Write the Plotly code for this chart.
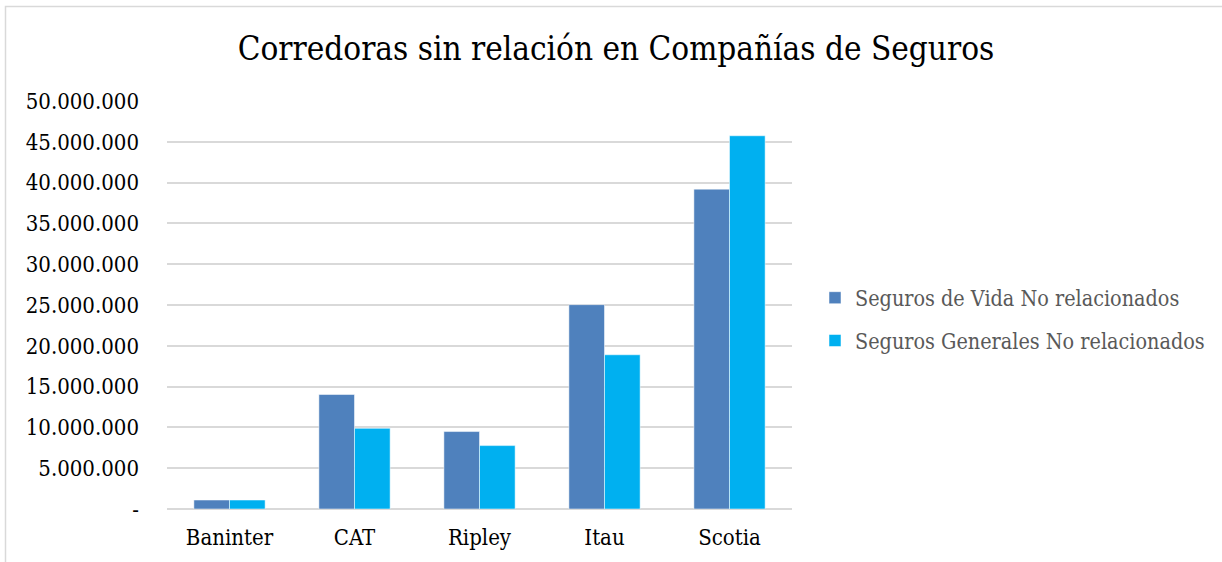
import plotly.graph_objects as go

categories = ["Baninter", "CAT", "Ripley", "Itau", "Scotia"]
vida = [1100000, 14030000, 9490000, 25040000, 39200000]
generales = [1100000, 9890000, 7770000, 18900000, 45740000]
series_names = ["Seguros de Vida No relacionados", "Seguros Generales No relacionados"]
y_tickvals = [0, 5000000, 10000000, 15000000, 20000000, 25000000,
              30000000, 35000000, 40000000, 45000000, 50000000]
y_ticktext = ["-", "5.000.000", "10.000.000", "15.000.000", "20.000.000",
              "25.000.000", "30.000.000", "35.000.000", "40.000.000",
              "45.000.000", "50.000.000"]
title_text = "Corredoras sin relación en Compañías de Seguros"

FONT = "DejaVu Serif Condensed, Liberation Serif, serif"

fig = go.Figure()
fig.add_trace(go.Bar(x=categories, y=vida, name=series_names[0],
                     marker=dict(color="#4F81BD", line=dict(color="rgba(255,255,255,0.5)", width=1)),
                     legendgroup="a"))
fig.add_trace(go.Bar(x=categories, y=generales, name=series_names[1],
                     marker=dict(color="#00B0F0", line=dict(color="rgba(255,255,255,0.5)", width=1)),
                     legendgroup="b"))

fig.update_layout(
    width=1222, height=562,
    margin=dict(l=167, r=430, t=101, b=53),
    paper_bgcolor="white", plot_bgcolor="white",
    barmode="group", bargap=0.43, bargroupgap=0,
    font=dict(family=FONT, size=22, color="#000000"),
    title=dict(text=title_text, x=616/1222, xanchor="center", y=1-48/562, yanchor="middle",
               font=dict(family=FONT, size=33, color="#000000")),
    legend=dict(x=1.0368, xanchor="left", y=0.465, yanchor="middle",
                font=dict(family=FONT, size=21.4, color="#595959"),
                traceorder="grouped", tracegroupgap=12, bgcolor="rgba(0,0,0,0)"),
    xaxis=dict(showgrid=False, showline=False, ticks="", tickfont=dict(size=22),
               ticklabelstandoff=13),
    yaxis=dict(range=[0, 50000000], tickvals=y_tickvals, ticktext=y_ticktext,
               showgrid=True, gridcolor="#D9D9D9", gridwidth=1.5,
               zeroline=True, zerolinecolor="#D9D9D9", zerolinewidth=1.5,
               showline=False, ticks="", tickfont=dict(size=22),
               ticklabelstandoff=27),
    shapes=[dict(type="rect", xref="paper", yref="paper",
                 x0=(5.5-167)/625, x1=(1240-167)/625,
                 y0=(509-580)/408, y1=(509-6.5)/408,
                 line=dict(color="#D9D9D9", width=1.5), fillcolor="rgba(0,0,0,0)", layer="below")],
    showlegend=True,
)

fig.write_html("out.html", config={"displayModeBar": False},
               post_script="document.body.style.margin='0';")
